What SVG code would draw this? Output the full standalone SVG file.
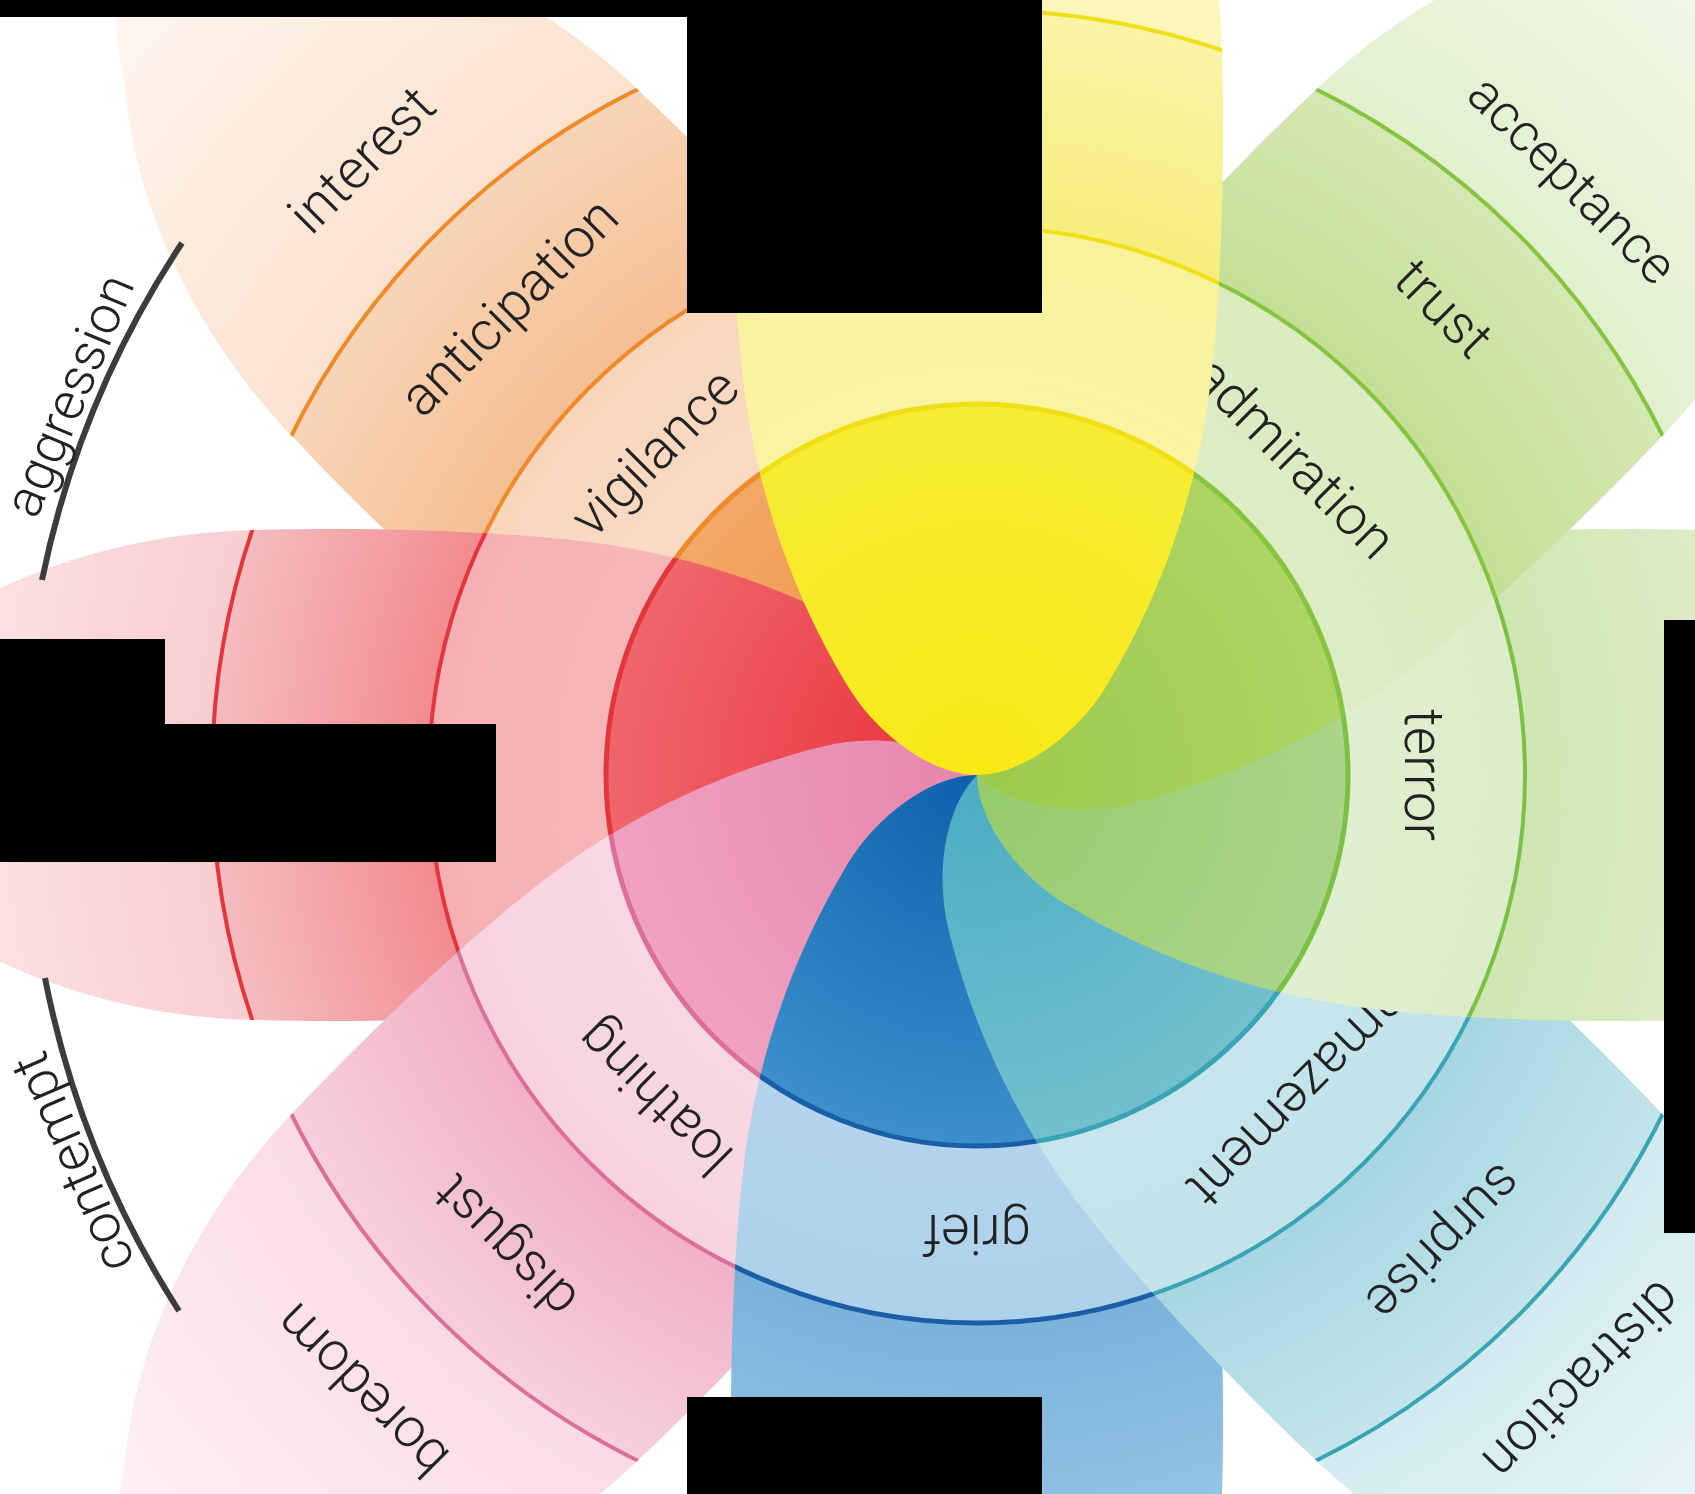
<svg xmlns="http://www.w3.org/2000/svg" xmlns:xlink="http://www.w3.org/1999/xlink" width="1695" height="1494" viewBox="0 0 1695 1494">
<style>
.lbl{font-family:Roboto,"Liberation Sans",sans-serif;font-weight:300;font-size:55px;fill:#222;text-anchor:middle;dominant-baseline:middle}
.sm{font-size:53px}
.rings{fill:none}
.redact{fill:#000}
.arc{fill:none;stroke:#3c3c3c;stroke-width:6}
</style>
<defs>
<path id="petalShape" d="M0 0 C45 0 100 -40 130 -90 C175 -165 215 -260 232 -380 C245 -480 248 -620 245 -720 C243 -850 200 -990 115 -1090 C75 -1150 40 -1185 0 -1192 C-40 -1185 -75 -1150 -115 -1090 C-200 -990 -243 -850 -245 -720 C-248 -620 -245 -480 -232 -380 C-215 -260 -175 -165 -130 -90 C-100 -40 -45 0 0 0 Z"/>
<clipPath id="petalClip"><use xlink:href="#petalShape"/></clipPath>
<radialGradient id="gJoy" gradientUnits="userSpaceOnUse" cx="0" cy="0" r="1192">
<stop offset="0" stop-color="#f8ea14"/><stop offset="0.311" stop-color="#f7ec34"/>
<stop offset="0.311" stop-color="#faf3a2"/><stop offset="0.46" stop-color="#f9f29c"/>
<stop offset="0.46" stop-color="#f6ee7c"/><stop offset="0.642" stop-color="#f9f3a8"/>
<stop offset="0.642" stop-color="#fbf6b8"/><stop offset="1" stop-color="#fefce8"/>
</radialGradient>
<radialGradient id="gTrust" gradientUnits="userSpaceOnUse" cx="0" cy="0" r="1192">
<stop offset="0" stop-color="#9cc94c"/><stop offset="0.311" stop-color="#acd462"/>
<stop offset="0.311" stop-color="#ddecc3"/><stop offset="0.46" stop-color="#dbebbf"/>
<stop offset="0.46" stop-color="#c4df95"/><stop offset="0.642" stop-color="#d4e8b3"/>
<stop offset="0.642" stop-color="#e2f0cf"/><stop offset="1" stop-color="#f7fbf1"/>
</radialGradient>
<radialGradient id="gFear" gradientUnits="userSpaceOnUse" cx="0" cy="0" r="1192">
<stop offset="0" stop-color="#95cb6a"/><stop offset="0.311" stop-color="#a9d489"/>
<stop offset="0.311" stop-color="#e0efcf"/><stop offset="0.46" stop-color="#ddedca"/>
<stop offset="0.46" stop-color="#cfe6b2"/><stop offset="0.642" stop-color="#dcedc6"/>
<stop offset="0.642" stop-color="#e4f1d6"/><stop offset="1" stop-color="#f6fbf0"/>
</radialGradient>
<radialGradient id="gSurprise" gradientUnits="userSpaceOnUse" cx="0" cy="0" r="1192">
<stop offset="0" stop-color="#4aacc3"/><stop offset="0.311" stop-color="#72c0ce"/>
<stop offset="0.311" stop-color="#c6e5ec"/><stop offset="0.46" stop-color="#c2e3ea"/>
<stop offset="0.46" stop-color="#a6d6e1"/><stop offset="0.642" stop-color="#c3e4eb"/>
<stop offset="0.642" stop-color="#d2ebf0"/><stop offset="1" stop-color="#f3fafc"/>
</radialGradient>
<radialGradient id="gSadness" gradientUnits="userSpaceOnUse" cx="0" cy="0" r="1192">
<stop offset="0" stop-color="#0c60ac"/><stop offset="0.311" stop-color="#3d90cc"/>
<stop offset="0.311" stop-color="#b3d4ec"/><stop offset="0.46" stop-color="#aed1ea"/>
<stop offset="0.46" stop-color="#7ab2dc"/><stop offset="0.642" stop-color="#94c3e4"/>
<stop offset="0.642" stop-color="#a9cfea"/><stop offset="1" stop-color="#e8f2fa"/>
</radialGradient>
<radialGradient id="gDisgust" gradientUnits="userSpaceOnUse" cx="0" cy="0" r="1192">
<stop offset="0" stop-color="#e685ab"/><stop offset="0.311" stop-color="#efa2bf"/>
<stop offset="0.311" stop-color="#f8d8e4"/><stop offset="0.46" stop-color="#f7d3e0"/>
<stop offset="0.46" stop-color="#f1b1c8"/><stop offset="0.642" stop-color="#f6cfdd"/>
<stop offset="0.642" stop-color="#f9dbe6"/><stop offset="1" stop-color="#fff5f8"/>
</radialGradient>
<radialGradient id="gAnger" gradientUnits="userSpaceOnUse" cx="0" cy="0" r="1192">
<stop offset="0" stop-color="#e82f36"/><stop offset="0.311" stop-color="#f0666c"/>
<stop offset="0.311" stop-color="#f6b6b9"/><stop offset="0.46" stop-color="#f5b0b3"/>
<stop offset="0.46" stop-color="#f18b90"/><stop offset="0.642" stop-color="#f5bcbf"/>
<stop offset="0.642" stop-color="#f8cdcf"/><stop offset="1" stop-color="#fff0f0"/>
</radialGradient>
<radialGradient id="gAnticipation" gradientUnits="userSpaceOnUse" cx="0" cy="0" r="1192">
<stop offset="0" stop-color="#ee8c3a"/><stop offset="0.311" stop-color="#f3a866"/>
<stop offset="0.311" stop-color="#f9dbc3"/><stop offset="0.46" stop-color="#f8d6bc"/>
<stop offset="0.46" stop-color="#f5bf93"/><stop offset="0.642" stop-color="#f8d5b8"/>
<stop offset="0.642" stop-color="#fbe2cf"/><stop offset="1" stop-color="#fff8f2"/>
</radialGradient>
</defs>
<rect width="1695" height="1494" fill="#fff"/>

<g id="petal-anticipation" transform="translate(977 775) rotate(-45)">
<use xlink:href="#petalShape" fill="url(#gAnticipation)"/>
<g class="rings" clip-path="url(#petalClip)" stroke="#ee8a2a"><circle r="371" stroke-width="5"/><circle r="548" stroke-width="4"/><circle r="765" stroke-width="4"/></g>
<text class="lbl" x="0" y="-452">vigilance</text>
<text class="lbl" x="0" y="-658">anticipation</text>
<text class="lbl" x="0" y="-866">interest</text>
</g>

<g id="petal-anger" transform="translate(977 775) rotate(-90)">
<use xlink:href="#petalShape" fill="url(#gAnger)"/>
<g class="rings" clip-path="url(#petalClip)" stroke="#e2353c"><circle r="371" stroke-width="5"/><circle r="548" stroke-width="4"/><circle r="765" stroke-width="4"/></g>
</g>

<g id="petal-disgust" transform="translate(977 775) rotate(-135)">
<use xlink:href="#petalShape" fill="url(#gDisgust)"/>
<g class="rings" clip-path="url(#petalClip)" stroke="#dc6f98"><circle r="371" stroke-width="5"/><circle r="548" stroke-width="4"/><circle r="765" stroke-width="4"/></g>
<text class="lbl" x="0" y="-452">loathing</text>
<text class="lbl" x="0" y="-663">disgust</text>
<text class="lbl" x="0" y="-866">boredom</text>
</g>

<g id="petal-sadness" transform="translate(977 775) rotate(180)">
<use xlink:href="#petalShape" fill="url(#gSadness)"/>
<g class="rings" clip-path="url(#petalClip)" stroke="#1b5ea8"><circle r="371" stroke-width="5"/><circle r="548" stroke-width="5"/><circle r="765" stroke-width="4"/></g>
<text class="lbl" x="0" y="-455">grief</text>
</g>

<g id="petal-surprise" transform="translate(977 775) rotate(135)">
<use xlink:href="#petalShape" fill="url(#gSurprise)"/>
<g class="rings" clip-path="url(#petalClip)" stroke="#3aa3b5"><circle r="371" stroke-width="5"/><circle r="548" stroke-width="4"/><circle r="765" stroke-width="4"/></g>
<text class="lbl" x="0" y="-450">amazement</text>
<text class="lbl" x="0" y="-657">surprise</text>
<text class="lbl" x="0" y="-852">distraction</text>
</g>

<g id="petal-fear" transform="translate(977 775) rotate(90)">
<use xlink:href="#petalShape" fill="url(#gFear)"/>
<g class="rings" clip-path="url(#petalClip)" stroke="#7bbf45"><circle r="371" stroke-width="5"/><circle r="548" stroke-width="4"/><circle r="765" stroke-width="4"/></g>
<text class="lbl" x="0" y="-443">terror</text>
</g>

<g id="petal-trust" transform="translate(977 775) rotate(45)">
<use xlink:href="#petalShape" fill="url(#gTrust)"/>
<g class="rings" clip-path="url(#petalClip)" stroke="#86c440"><circle r="371" stroke-width="5"/><circle r="548" stroke-width="4"/><circle r="765" stroke-width="4"/></g>
<text class="lbl" x="0" y="-445">admiration</text>
<text class="lbl" x="0" y="-656">trust</text>
<text class="lbl sm" x="0" y="-838">acceptance</text>
</g>

<g id="petal-joy" transform="translate(977 775)">
<use xlink:href="#petalShape" fill="url(#gJoy)"/>
<g class="rings" clip-path="url(#petalClip)" stroke="#efdf14"><circle r="371" stroke-width="5"/><circle r="548" stroke-width="4"/><circle r="765" stroke-width="4"/></g>
</g>

<g id="connectors">
<path class="arc" d="M182 243 A957 957 0 0 0 42 580"/>
<path class="arc" d="M45 978 A957 957 0 0 0 179 1311"/>
</g>

<g id="dyad-aggression" transform="translate(977 775) rotate(-67.3)">
<text class="lbl sm" x="0" y="-980">aggression</text>
</g>
<g id="dyad-contempt" transform="translate(977 775) rotate(-113.2)">
<text class="lbl" x="0" y="-980">contempt</text>
</g>

<g id="redactions">
<rect class="redact" x="0" y="0" width="687" height="17"/>
<rect class="redact" x="687" y="0" width="355" height="313"/>
<rect class="redact" x="0" y="639" width="165" height="86"/>
<rect class="redact" x="0" y="724" width="496" height="138"/>
<rect class="redact" x="1664" y="620" width="31" height="613"/>
<rect class="redact" x="687" y="1397" width="355" height="97"/>
</g>
</svg>
